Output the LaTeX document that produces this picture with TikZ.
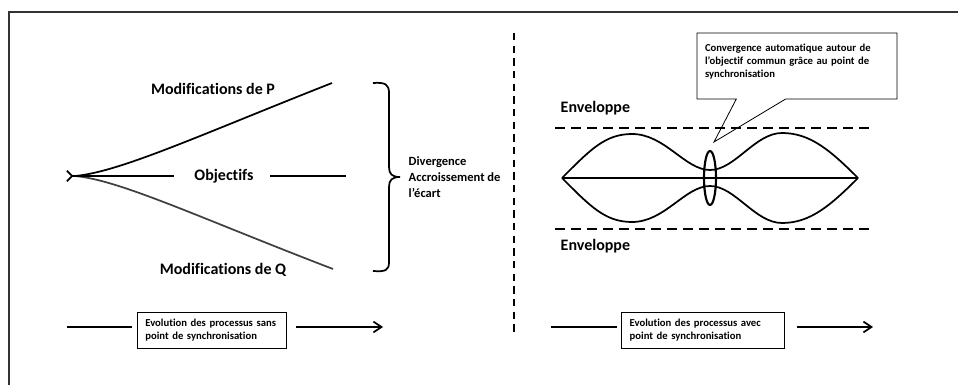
\documentclass[tikz,border=0pt]{standalone}
\usepackage{fontspec}
\setmainfont{Carlito}[Ligatures={TeX,NoCommon}]
\usetikzlibrary{arrows.meta,shapes.callouts}

\tikzset{
  trait/.style={line width=1.3pt},
  titre/.style={font=\fontsize{12}{14}\selectfont\bfseries},
  legende/.style={font=\fontsize{9.4}{12}\selectfont\bfseries, align=left},
  petit/.style={font=\fontsize{8}{10}\selectfont\bfseries},
  boite/.style={draw, line width=0.6pt, petit, align=left, inner xsep=6pt, minimum height=27pt},
  pointille/.style={dash pattern=on 7.5pt off 4.5pt, line width=1.2pt},
  fleche/.style={-{Straight Barb[length=6pt,width=8pt]}},
}

\begin{document}
\begin{tikzpicture}[x=0.75pt, y=-0.75pt]
  % 画布范围
  \useasboundingbox (0,0) rectangle (958,385);
  % 外框（上边和左边）
  \draw[line width=1.1pt, black!80] (9,385) -- (9,12) -- (958,12);

  % 左图：定义起点和终点
  \coordinate (Ob) at (66,176);
  \coordinate (O) at (75,176);
  \coordinate (P) at (332,83);
  \coordinate (Q) at (333,269);
  \coordinate (Oe) at (346,176);
  % 标记文字
  \node[titre] (obj) at (224,176) {Objectifs};
  \node[titre] (modP) at (213,89) {Modifications de P};
  \node[titre] (modQ) at (223,270) {Modifications de Q};
  % 两条分叉曲线
  \draw[trait] (O) .. controls (120,172) and (200,135) .. (P);
  \draw[trait, black!75] (O) .. controls (120,180) and (200,218) .. (Q);
  % 中间的目标线
  \draw[trait, {Straight Barb[reversed,length=4pt,width=8pt]}-, shorten >=12pt] (Ob) -- (obj.west);
  \draw[trait, shorten <=9pt] (obj.east) -- (Oe);

  % 右括号
  \coordinate (acc) at (400,177);
  \draw[trait] (373,83) .. controls (386,82) and (389,85) .. (389,93) -- (389,167)
    .. controls (389,174) and (392,177) .. (acc)
    .. controls (392,177) and (389,180) .. (389,187) -- (389,262)
    .. controls (389,270) and (386,272) .. (373,271);
  \node[legende, anchor=west] (div) at (404,177) {Divergence\\Accroissement de\\l’écart};

  % 分隔虚线
  \draw[line width=1.5pt, dash pattern=on 5.5pt off 4pt] (514,33) -- (514,334);

  % 右图：包络线
  \draw[pointille] (555,128) -- (870,128);
  \draw[pointille] (555,229) -- (870,229);
  \node[titre, anchor=west] (envH) at (556,108) {Enveloppe};
  \node[titre, anchor=west] (envB) at (556,246) {Enveloppe};
  % 收敛曲线
  \coordinate (L) at (562,178);
  \coordinate (R) at (858,178);
  \draw[trait] (L) -- (R);
  \foreach \s in {1,-1}
    \draw[trait] (L) .. controls (590,{178-28*\s}) and (605,{178-44*\s}) .. (632,{178-44*\s})
      .. controls (665,{178-44*\s}) and (685,{178-8*\s}) .. (710,{178-8*\s})
      .. controls (735,{178-8*\s}) and (755,{178-45*\s}) .. (782,{178-45*\s})
      .. controls (810,{178-45*\s}) and (830,{178-28*\s}) .. (R);
  % 同步点
  \coordinate (S) at (710,178);
  \draw[line width=1.6pt] (S) ellipse [x radius=6, y radius=27];
  % 说明框
  \coordinate (tip) at (714,142);
  \node[rectangle callout, draw, line width=0.6pt, callout absolute pointer={(tip)},
    callout pointer width=37pt, minimum width=150pt, minimum height=49.5pt,
    text width=138pt, inner xsep=6pt, align=left, font=\fontsize{8}{10}\selectfont\bfseries] (conv) at (797,66)
    {Convergence automatique autour de\\l’objectif commun grâce au point de\\synchronisation\\[-2pt]\mbox{}};

  % 底部：演化箭头
  \coordinate (d1) at (67,327);
  \coordinate (f1) at (383,327);
  \node[boite, text width=100pt] (evo1) at (212,330) {Evolution des processus sans\\point de synchronisation};
  \draw[trait, shorten >=4pt] (d1) -- (evo1.west |- d1);
  \draw[trait, fleche, shorten <=7pt] (evo1.east |- f1) -- (f1);
  \coordinate (d2) at (551,327);
  \coordinate (f2) at (873,327);
  \node[boite, text width=110pt] (evo2) at (703,330) {Evolution des processus avec\\point de synchronisation};
  \draw[trait, shorten >=3pt] (d2) -- (evo2.west |- d2);
  \draw[trait, fleche, shorten <=9pt] (evo2.east |- f2) -- (f2);
\end{tikzpicture}
\end{document}
